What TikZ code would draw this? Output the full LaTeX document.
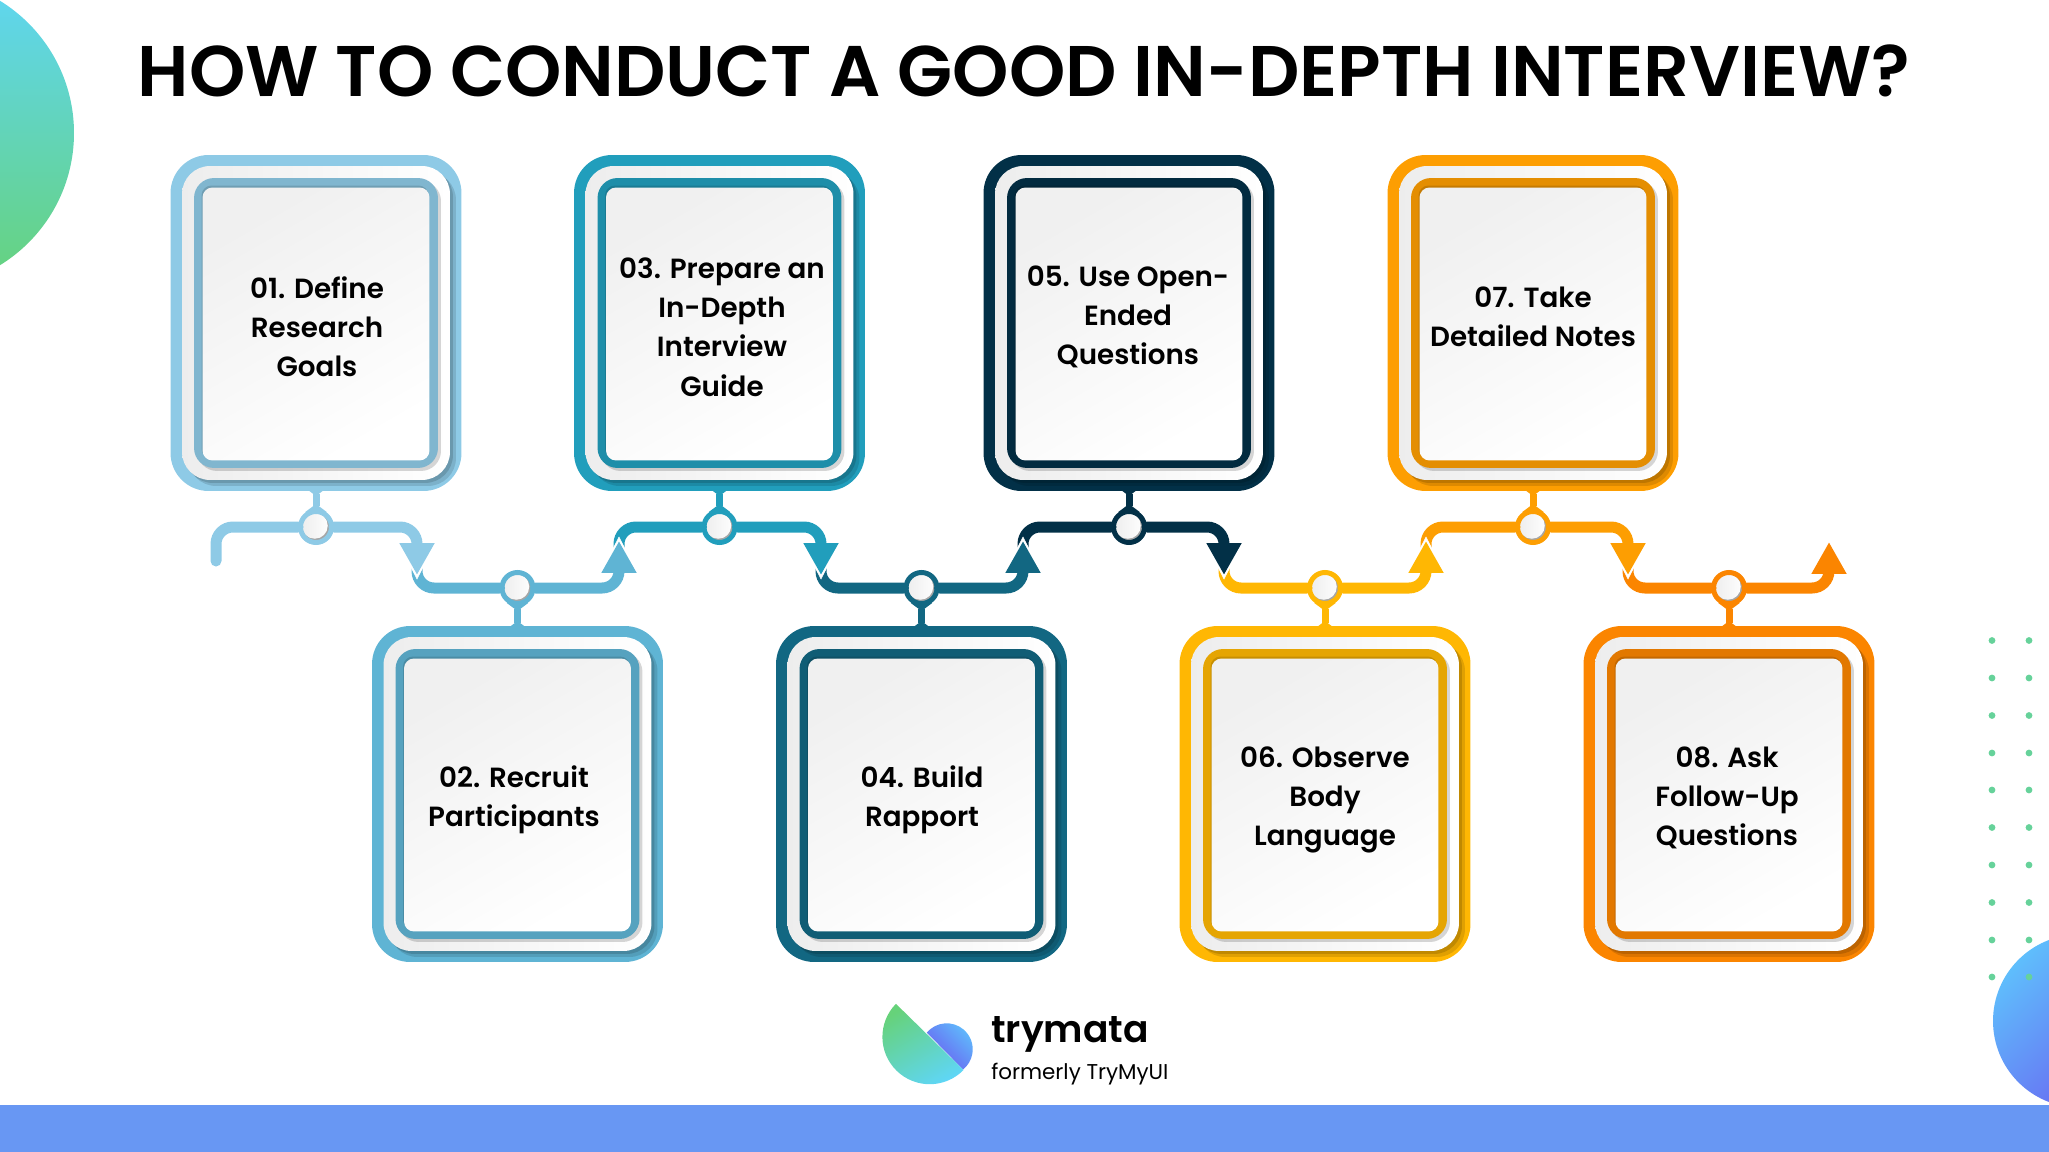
\documentclass[tikz,border=0pt]{standalone}
\usepackage{fontspec}
\setmainfont{Poppins}[BoldFont={Poppins SemiBold}]
\usetikzlibrary{arrows.meta}

\definecolor{cardone}{HTML}{8ECAE6}
\definecolor{cardtwo}{HTML}{5FB4D4}
\definecolor{cardthree}{HTML}{219EBC}
\definecolor{cardfour}{HTML}{126782}
\definecolor{cardfive}{HTML}{023047}
\definecolor{cardsix}{HTML}{FFB703}
\definecolor{cardseven}{HTML}{FD9E02}
\definecolor{cardeight}{HTML}{FB8500}
\definecolor{bandblue}{HTML}{6897F3}
\definecolor{dotgreen}{HTML}{66D29A}
\definecolor{leafgreen}{HTML}{66D27A}
\definecolor{leafcyan}{HTML}{5FD6F6}
\definecolor{ballblue}{HTML}{5FBEFC}
\definecolor{ballviolet}{HTML}{6A5BF0}

\tikzset{
  slab/.style={rectangle, inner sep=0pt, outer sep=0pt},
  cardband/.style={slab, minimum width=5.82cm, minimum height=6.72cm, rounded corners=.76cm},
  cardplate/.style={slab, minimum width=5.36cm, minimum height=6.28cm, rounded corners=.56cm},
  cardring/.style={slab, minimum width=4.88cm, minimum height=5.8cm, rounded corners=.4cm},
  cardpanel/.style={slab, minimum width=4.54cm, minimum height=5.46cm, rounded corners=.2cm},
  cardtext/.style={align=center, font=\fontsize{15.8}{22.3}\selectfont\bfseries, text=black},
  dot/.style={circle, inner sep=0pt, minimum size=.62cm, line width=.1cm, fill=black!35,
    path picture={\shade[left color=black!7, right color=white]
      ([xshift=-.025cm,yshift=.025cm]path picture bounding box.center) circle (.26cm);}},
  wire/.style={line width=.22cm, line cap=round, rounded corners=.34cm,
    -{Triangle[width=.66cm,length=.64cm]}},
  notch/.style={white, line width=.2pt, rounded corners=.34cm, shorten >=-.09cm,
    -{Triangle[width=.82cm,length=.8cm]}},
  stem/.style={line width=.14cm, shorten <=-.06cm, shorten >=-.06cm,
    {Triangle[reversed,width=.42cm,length=.16cm]}-{Triangle[reversed,width=.42cm,length=.16cm]}}
}

\newcommand{\drawcard}[4]{
  \node[cardband, fill=#4] (#1) at (#2,#3) {};
  \node[cardplate, fill=black, opacity=.12] (#1shadowa) at (#2+6,#3+6) {};
  \node[cardplate, fill=black, opacity=.14] (#1shadowb) at (#2+3,#3+3) {};
  \node[cardplate, left color=black!7, right color=white] (#1plate) at (#2,#3) {};
  \node[cardring, fill=black, opacity=.16] (#1ringshadow) at (#2+3,#3+3) {};
  \node[cardring, fill=#4!90!black] (#1ring) at (#2,#3) {};
  \node[cardpanel, fill=#4!78!black] (#1inset) at (#2-1,#3-1) {};
  \node[cardpanel, top color=black!6, bottom color=white, shading angle=30] (#1panel) at (#2,#3+1) {};
}
\newcommand{\drawwire}[4]{
  \draw[notch] (#1) |- (#2) -| (#3);
  \draw[wire, draw=#4] (#1) |- (#2) -| (#3);
}

\begin{document}
\begin{tikzpicture}[x=.02cm, y=-.02cm]
\useasboundingbox (0,0) rectangle (2049,1152);

\begin{scope}
\clip (0,0) rectangle (2049,1152);
\shade[top color=leafcyan, bottom color=leafgreen] (-81,133) circle (155);
\shade[top color=ballblue, bottom color=ballviolet, shading angle=45] (2079.6,1021) circle (86.6);
\end{scope}
\fill[bandblue] (0,1105) rectangle (2049,1152);

\fill[dotgreen] (1992,640.5) circle (3.4);
\fill[dotgreen] (2029,640.5) circle (3.4);
\fill[dotgreen] (1992,678) circle (3.4);
\fill[dotgreen] (2029,678) circle (3.4);
\fill[dotgreen] (1992,715.5) circle (3.4);
\fill[dotgreen] (2029,715.5) circle (3.4);
\fill[dotgreen] (1992,753) circle (3.4);
\fill[dotgreen] (2029,753) circle (3.4);
\fill[dotgreen] (1992,790) circle (3.4);
\fill[dotgreen] (2029,790) circle (3.4);
\fill[dotgreen] (1992,827.5) circle (3.4);
\fill[dotgreen] (2029,827.5) circle (3.4);
\fill[dotgreen] (1992,865) circle (3.4);
\fill[dotgreen] (2029,865) circle (3.4);
\fill[dotgreen] (1992,902.5) circle (3.4);
\fill[dotgreen] (2029,902.5) circle (3.4);
\fill[dotgreen] (1992,940) circle (3.4);
\fill[dotgreen] (2029,940) circle (3.4);
\fill[dotgreen] (1992,977) circle (3.4);
\fill[dotgreen] (2029,977) circle (3.4);

\node[anchor=base, font=\fontsize{40.8}{48}\selectfont\bfseries] (title) at (1024,97)
  {HOW TO CONDUCT A GOOD IN-DEPTH INTERVIEW?};

\drawcard{cardA}{316}{323}{cardone}
\drawcard{cardB}{517.5}{794}{cardtwo}
\drawcard{cardC}{719.5}{323}{cardthree}
\drawcard{cardD}{921.5}{794}{cardfour}
\drawcard{cardE}{1129}{323}{cardfive}
\drawcard{cardF}{1325}{794}{cardsix}
\drawcard{cardG}{1533}{323}{cardseven}
\drawcard{cardH}{1729}{794}{cardeight}

\node[cardtext] (labelA) at (317,327) {01. Define\\Research\\Goals};
\node[cardtext] (labelB) at (514,800) {02. Recruit\\Participants};
\node[cardtext] (labelC) at (722,327) {03. Prepare an\\In-Depth\\Interview\\Guide};
\node[cardtext] (labelD) at (922,800) {04. Build\\Rapport};
\node[cardtext] (labelE) at (1128,317) {05. Use Open-\\Ended\\Questions};
\node[cardtext] (labelF) at (1325,800) {06. Observe\\Body\\Language};
\node[cardtext] (labelG) at (1533,317) {07. Take\\Detailed Notes};
\node[cardtext] (labelH) at (1727,798) {08. Ask\\Follow-Up\\Questions};

\node[dot, draw=cardone] (dotA) at (316,527) {};
\node[dot, draw=cardtwo] (dotB) at (517.5,588) {};
\node[dot, draw=cardthree] (dotC) at (719.5,527) {};
\node[dot, draw=cardfour] (dotD) at (921.5,588) {};
\node[dot, draw=cardfive] (dotE) at (1129,527) {};
\node[dot, draw=cardsix] (dotF) at (1325,588) {};
\node[dot, draw=cardseven] (dotG) at (1533,527) {};
\node[dot, draw=cardeight] (dotH) at (1729,588) {};

\draw[stem, cardone] (cardA) -- (dotA);
\draw[stem, cardtwo] (cardB) -- (dotB);
\draw[stem, cardthree] (cardC) -- (dotC);
\draw[stem, cardfour] (cardD) -- (dotD);
\draw[stem, cardfive] (cardE) -- (dotE);
\draw[stem, cardsix] (cardF) -- (dotF);
\draw[stem, cardseven] (cardG) -- (dotG);
\draw[stem, cardeight] (cardH) -- (dotH);

\coordinate (startA) at (216,561);
\coordinate (startB) at (417,565);
\coordinate (startC) at (619,549);
\coordinate (startD) at (821,565);
\coordinate (startE) at (1023,549);
\coordinate (startF) at (1224,565);
\coordinate (startG) at (1426,549);
\coordinate (startH) at (1628,565);
\coordinate (tipA) at (417,575);
\coordinate (tipB) at (619,541);
\coordinate (tipC) at (821,575);
\coordinate (tipD) at (1023,541);
\coordinate (tipE) at (1224,575);
\coordinate (tipF) at (1426,541);
\coordinate (tipG) at (1628,575);
\coordinate (tipH) at (1829,542);

\drawwire{startH}{dotH}{tipH}{cardeight}
\drawwire{startG}{dotG}{tipG}{cardseven}
\drawwire{startF}{dotF}{tipF}{cardsix}
\drawwire{startE}{dotE}{tipE}{cardfive}
\drawwire{startD}{dotD}{tipD}{cardfour}
\drawwire{startC}{dotC}{tipC}{cardthree}
\drawwire{startB}{dotB}{tipB}{cardtwo}
\drawwire{startA}{dotA}{tipA}{cardone}

% logo
\shade[top color=ballblue, middle color=ballviolet!90!ballblue, bottom color=ballviolet, shading angle=-45]
  (926.8,1032.6) arc[start angle=220, end angle=411, radius=26] -- cycle;
\shade[top color=leafgreen, bottom color=leafcyan, shading angle=30]
  (963.5,1070) arc[start angle=44.4, end angle=224.4, radius=47.3] -- cycle;
\node[anchor=base west, inner sep=0pt, font=\fontsize{21.4}{26}\selectfont\bfseries] (brand) at (991,1042) {trymata};
\node[anchor=base west, inner sep=0pt, font=\fontsize{12.2}{14}\selectfont] (former) at (991,1079) {formerly TryMyUI};

\end{tikzpicture}
\end{document}
